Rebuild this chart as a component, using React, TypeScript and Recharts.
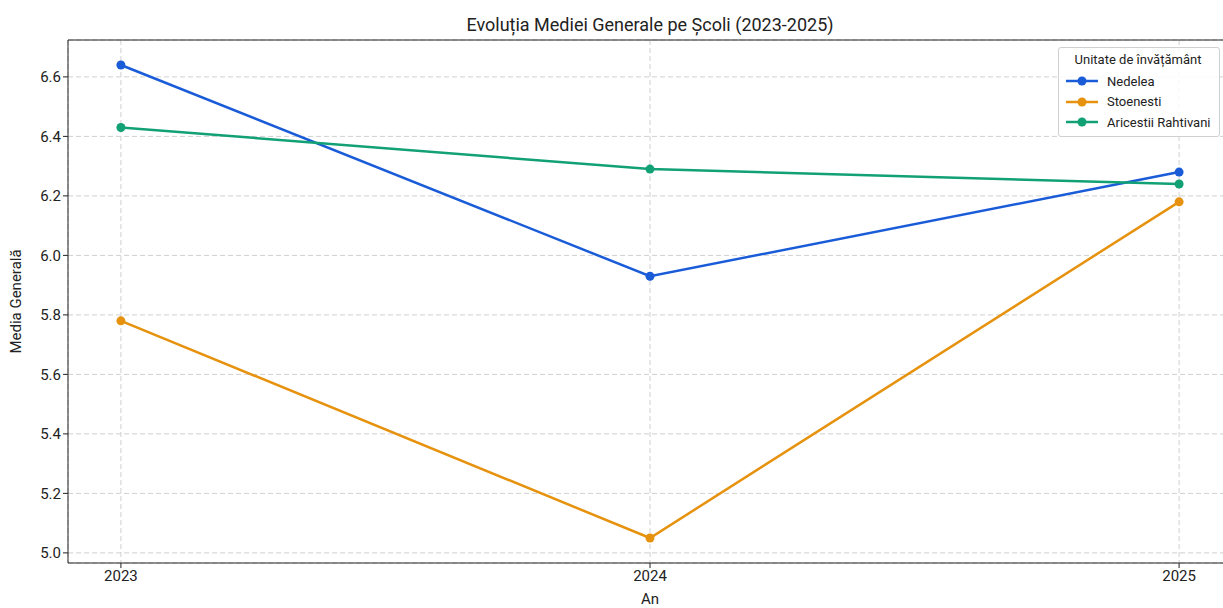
import React from "react";
import {
  LineChart,
  Line,
  XAxis,
  YAxis,
  CartesianGrid,
  ReferenceLine,
} from "recharts";

const years = [2023, 2024, 2025];
const nedelea = [6.64, 5.93, 6.28];
const stoenesti = [5.78, 5.05, 6.18];
const aricestii = [6.43, 6.29, 6.24];
const yTicks = [5.0, 5.2, 5.4, 5.6, 5.8, 6.0, 6.2, 6.4, 6.6];

const seriesDefs = [
  { key: "Nedelea", values: nedelea, color: "#1a5cd8" },
  { key: "Stoenesti", values: stoenesti, color: "#e6920e" },
  { key: "Aricestii Rahtivani", values: aricestii, color: "#12a075" },
];

const data = years.map((y, i) => {
  const row: Record<string, number> = { year: y };
  seriesDefs.forEach((s) => {
    row[s.key] = s.values[i];
  });
  return row;
});

const FONT = "Roboto, 'Open Sans', sans-serif";
const Y_MIN = 4.966;
const Y_MAX = 6.724;

const LegendBox = () => (
  <div
    style={{
      position: "absolute",
      top: 47,
      left: 1058,
      border: "1px solid #d0d0d0",
      borderRadius: 3,
      background: "rgba(255,255,255,0.85)",
      padding: "3px 8px 3px 6px",
      fontFamily: FONT,
      fontSize: 13,
      color: "#222",
      width: 146,
    }}
  >
    <div style={{ textAlign: "center", marginBottom: 2, lineHeight: "18px" }}>
      Unitate de învățământ
    </div>
    {seriesDefs.map((s) => (
      <div key={s.key} style={{ display: "flex", alignItems: "center", height: 20.5 }}>
        <svg width={34} height={12} style={{ marginRight: 8 }}>
          <line x1={1} y1={6} x2={33} y2={6} stroke={s.color} strokeWidth={2.5} />
          <circle cx={17} cy={6} r={4.5} fill={s.color} />
        </svg>
        <span>{s.key}</span>
      </div>
    ))}
  </div>
);

export default function App() {
  return (
    <div
      style={{
        position: "absolute",
        left: 0,
        top: 0,
        width: 1223,
        height: 608,
        overflow: "hidden",
        background: "#fff",
      }}
    >
      <div
        style={{
          position: "absolute",
          top: 14,
          left: 68,
          width: 1164,
          textAlign: "center",
          fontFamily: FONT,
          fontSize: 18,
          color: "#222",
        }}
      >
        Evoluția Mediei Generale pe Școli (2023-2025)
      </div>
      <LineChart
        width={1233}
        height={608}
        data={data}
        margin={{ top: 40, right: 1, bottom: 0, left: 0 }}
      >
        <CartesianGrid
          stroke="#d0d0d0"
          strokeDasharray="5 3"
          strokeWidth={1}
        />
        <XAxis
          dataKey="year"
          type="number"
          domain={[2022.9, 2025.1]}
          ticks={years}
          tickFormatter={(v: number) => String(v)}
          height={45}
          stroke="#222"
          tick={{ fill: "#222", fontSize: 15, fontFamily: FONT }}
          tickSize={5}
          label={{
            value: "An",
            position: "insideBottom",
            offset: 4,
            fill: "#222",
            fontSize: 15,
            fontFamily: FONT,
          }}
        />
        <YAxis
          type="number"
          domain={[Y_MIN, Y_MAX]}
          ticks={yTicks}
          tickFormatter={(v: number) => v.toFixed(1)}
          width={68}
          stroke="#222"
          tickSize={5}
          tick={{ fill: "#222", fontSize: 15, fontFamily: FONT }}
          label={{
            value: "Media Generală",
            angle: -90,
            position: "insideLeft",
            offset: 16,
            style: { textAnchor: "middle" },
            fill: "#222",
            fontSize: 15,
            fontFamily: FONT,
          }}
        />
        <ReferenceLine y={Y_MAX} stroke="#222" strokeWidth={1} ifOverflow="visible" />
        {seriesDefs.map((s) => (
          <Line
            key={s.key}
            type="linear"
            dataKey={s.key}
            stroke={s.color}
            strokeWidth={2.5}
            dot={{ r: 4.5, fill: s.color, stroke: s.color, strokeWidth: 0 }}
            activeDot={false}
            isAnimationActive={false}
          />
        ))}
      </LineChart>
      <LegendBox />
    </div>
  );
}
